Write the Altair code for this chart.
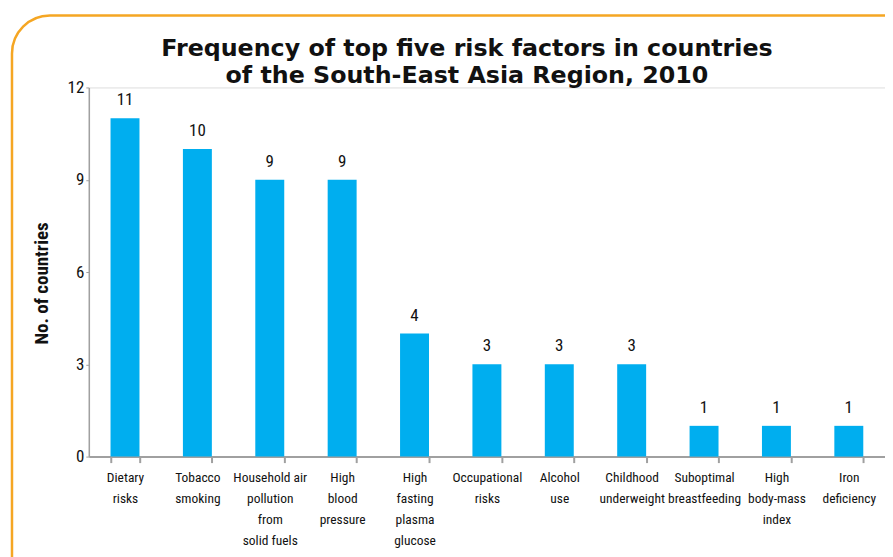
import altair as alt
import pandas as pd

categories = [
    "Dietary\nrisks",
    "Tobacco\nsmoking",
    "Household air\npollution\nfrom\nsolid fuels",
    "High\nblood\npressure",
    "High\nfasting\nplasma\nglucose",
    "Occupational\nrisks",
    "Alcohol\nuse",
    "Childhood\nunderweight",
    "Suboptimal\nbreastfeeding",
    "High\nbody-mass\nindex",
    "Iron\ndeficiency",
]
values = [11, 10, 9, 9, 4, 3, 3, 3, 1, 1, 1]
y_ticks = [0, 3, 6, 9, 12]
title_lines = [
    "Frequency of top five risk factors in countries",
    "of the South-East Asia Region, 2010",
]

df = pd.DataFrame({"cat": categories, "n": values})

FONT = "'Roboto Condensed', 'Liberation Sans Narrow', 'Arial Narrow', 'DejaVu Sans Condensed', sans-serif"
AXIS_COLOR = "#a0a0a0"
BAR_COLOR = "#00AEEF"

x_enc = alt.X(
    "cat:N",
    sort=None,
    scale=alt.Scale(paddingInner=0.6, paddingOuter=0.3),
    axis=alt.Axis(
        title=None,
        labelAngle=0,
        labelExpr="split(datum.label, '\\n')",
        labelFont=FONT,
        labelFontSize=13.5,
        labelColor="#111111",
        labelLineHeight=21,
        labelPadding=8,
        labelBaseline="top",
        tickBand="extent",
        tickSize=6,
        tickColor=AXIS_COLOR,
        tickWidth=2,
        domainColor=AXIS_COLOR,
        domainWidth=2,
    ),
)

y_enc = alt.Y(
    "n:Q",
    scale=alt.Scale(domain=[0, 12], nice=False),
    axis=alt.Axis(
        title="No. of countries",
        titleFont=FONT,
        titleFontSize=19,
        titleFontWeight="bold",
        titleColor="#111111",
        titlePadding=16,
        titleY=196,
        values=y_ticks,
        labelFont=FONT,
        labelFontSize=17,
        labelColor="#111111",
        labelPadding=2,
        tickSize=3,
        tickColor=AXIS_COLOR,
        domainColor=AXIS_COLOR,
        domainWidth=1.5,
        grid=False,
    ),
)

bars = alt.Chart(df).mark_bar(color=BAR_COLOR).encode(x=x_enc, y=y_enc)

labels = alt.Chart(df).mark_text(
    font=FONT, fontSize=17, color="#111111", baseline="alphabetic", dy=-13
).encode(x=alt.X("cat:N", sort=None), y="n:Q", text="n:Q")

border = alt.Chart(pd.DataFrame({"a": [0]})).mark_rect(
    fill=None, stroke="#F5A623", strokeWidth=2.5, cornerRadius=38, clip=False
).encode(
    x=alt.value(-77), x2=alt.value(920), y=alt.value(-72), y2=alt.value(620)
)

title = alt.Chart(pd.DataFrame({"t": [title_lines]})).mark_text(
    font="DejaVu Sans",
    fontSize=23.8,
    fontWeight="bold",
    color="#111111",
    align="center",
    baseline="alphabetic",
    lineHeight=28,
).encode(x=alt.value(379), y=alt.value(-32), text="t")

chart = (
    alt.layer(border, bars, labels, title)
    .properties(
        width=798,
        height=370,
        autosize=alt.AutoSizeParams(type="none"),
        padding={"left": 81, "top": 79, "right": 0, "bottom": 100},
    )
    .configure_view(stroke=None)
    .configure(background="white")
)

chart.save("out.html", embed_options={"renderer": "svg", "actions": False})
